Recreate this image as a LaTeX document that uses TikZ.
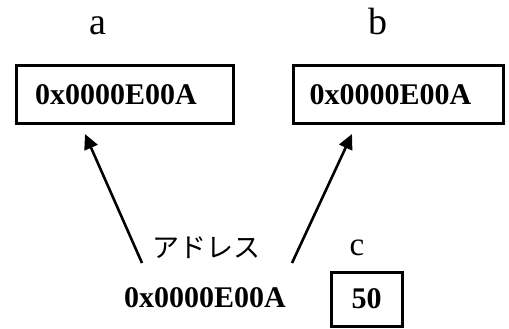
\documentclass[tikz,border=0pt]{standalone}
\usepackage{fontspec}
\setmainfont{Liberation Serif}
\newfontfamily\jpfont{Noto Sans CJK JP}
\usetikzlibrary{arrows.meta}

\tikzset{
  var/.style={font=\fontsize{38}{40}\selectfont},
  cell/.style={draw, line width=3pt, minimum height=57pt, align=left,
    font=\fontsize{30}{34}\selectfont\bfseries},
  ptr/.style={line width=2.6pt, -{Triangle[length=15pt,width=14pt]}}
}

\begin{document}
\begin{tikzpicture}[x=1pt,y=-1pt]
\useasboundingbox (0,0) rectangle (509,329);
    % two pointer variables holding the same address
    \node [var, anchor=base] (na) at (98,35) {a};
    \node [var, anchor=base] (nb) at (378,35) {b};
    \node [cell, text width=179pt, inner xsep=19pt] (a) at (124.5,94.5) {0x0000E00A};
    \node [cell, text width=178pt, inner xsep=16pt] (b) at (398.5,94.5) {0x0000E00A};
% the int variable c
\node [var, font=\fontsize{33}{36}\selectfont, anchor=base] (nc) at (357,255) {c};
\node [cell, minimum width=71pt, minimum height=54pt, inner sep=0pt] (c) at (366.5,299) {50};
% its address
\node [font=\fontsize{27}{30}\selectfont\jpfont] (lbl) at (206,248) {アドレス};
\node [font=\fontsize{30}{34}\selectfont\bfseries, anchor=base] (addr) at (205,307) {0x0000E00A};
\coordinate (ta) at (142,263);
\coordinate (tb) at (292,263);
\coordinate (ha) at (85,134);
\coordinate (hb) at (352,134);
\draw [ptr] (ta) to (ha);
\draw [ptr] (tb) to (hb);
  \end{tikzpicture}
\end{document}
